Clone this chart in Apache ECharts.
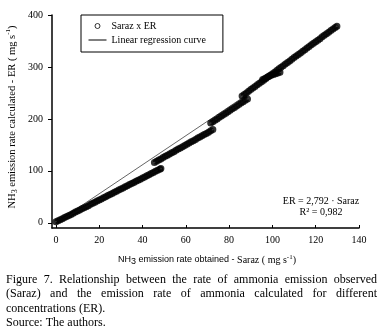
<!DOCTYPE html>
<html>
<head>
<meta charset="utf-8">
<script src="https://cdn.jsdelivr.net/npm/echarts@6/dist/echarts.min.js"></script>
<style>
html,body{margin:0;padding:0;background:#fff;}
#chart{width:383px;height:334px;}
</style>
</head>
<body>
<div id="chart"></div>
<script>
// ---- data ----
var xTicks = [0, 20, 40, 60, 80, 100, 120, 140];
var yTicks = [0, 100, 200, 300, 400];

// Saraz (observed) vs ER (calculated) – dense runs of points
var seg1X = [0,1,2,3,4,5,6,7,8,9,10,11,12,13,14,15,16,17,18,19,20,21,22,23,24,25,26,27,28,29,30,31,32,33,34,35,36,37,38,39,40,41,42,43,44,45,46,47,48,48.5];
var seg1Y = [2,4,6,8,10,12,14,16,18.5,20.6,22.7,24.8,27,29,31,33,35.5,37.5,39.7,41.8,44,46,48,50.3,52.4,54.5,56.6,58.7,60.9,63,65,67,69.3,71.5,73.6,75.7,77.8,80,82,84,86.3,88.4,90.5,92.7,94.8,97,99,101,103,104.3];
var seg2X = [45.5,46.5,47.5,48.5,49.5,50.5,51.5,52.5,53.5,54.5,55.5,56.5,57.5,58.5,59.5,60.5,61.5,62.5,63.5,64.5,65.5,66.5,67.5,68.5,69.5,70.5,71.5,72.5];
var seg2Y = [116,118.5,121,123,125.5,128,130,132.5,135,137,139.5,142,144,146.5,149,151,153.5,156,158,160.5,163,165,167.5,170,172,174.5,177,179.5];
var seg3X = [71.5,72.5,73.5,74.5,75.5,76.5,77.5,78.5,79.5,80.5,81.5,82.5,83.5,84.5,85.5,86.5,87.5,88.5];
var seg3Y = [192,194.5,197.5,200,203,205.5,208.5,211,214,216.5,219.5,222,225,227.5,230.5,233,236,238.5];
var seg4X = [86,87,88,89,90,91,92,93,94,95,96,97,98,99,100,101,102,103,104,105,106,107,108,109,110,111,112,113,114,115,116,117,118,119,120,121,122,123,124,125,126,127,128,129,129.8];
var seg4Y = [244,247,250,253,256.5,259.5,262.5,265.5,268.5,271.5,274.5,278,281,284,287,290,293,296.5,299.5,302.5,305.5,308.5,311.5,315,318,321,324,327,330,333,336.5,339.5,342.5,345.5,348.5,351.5,354.5,358,361,364,367,370,373,376,378.5];
var seg5X = [95.5,96.5,97.5,98.5,99.5,100.5,101.5,102.5,103.5];
var seg5Y = [276,278,280,282,284,285.5,287,288.5,290];

// Linear regression ER = 2,792 · Saraz (visible part)
var regX = [0, 87];
var regY = [0, 243];

var seriesName = 'Saraz x ER';
var regName = 'Linear regression curve';
var eqLine1 = 'ER = 2,792 \u00b7 Saraz';
var eqLine2 = 'R\u00b2 = 0,982';
var captionLines = [
  'Figure 7. Relationship between the rate of ammonia emission observed',
  '(Saraz) and the emission rate of ammonia calculated for different',
  'concentrations (ER).',
  'Source: The authors.'
];
var captionJustify = [true, true, false, false];

// ---- build ----
function pairs(xs, ys) { return xs.map(function (x, i) { return [x, ys[i]]; }); }
var scatterData = [].concat(pairs(seg1X, seg1Y), pairs(seg2X, seg2Y), pairs(seg3X, seg3Y), pairs(seg4X, seg4Y), pairs(seg5X, seg5Y));
var regData = pairs(regX, regY);

var SERIF = '"Liberation Serif", "DejaVu Serif", serif';
var SANS = '"Liberation Sans", "DejaVu Sans", sans-serif';

var mctx = document.createElement('canvas').getContext('2d');
var capFont = '12px "Liberation Serif"';
mctx.font = capFont;
function tw(t) { return mctx.measureText(t).width; }

var graphics = [];
// caption
var capLeft = 6, capRight = 377;
captionLines.forEach(function (line, li) {
  var y = 279.5 + li * 14.6;
  if (captionJustify[li]) {
    var words = line.split(' ');
    var total = words.reduce(function (s, w) { return s + tw(w); }, 0);
    var gap = (capRight - capLeft - total) / (words.length - 1);
    var x = capLeft;
    words.forEach(function (w) {
      graphics.push({ type: 'text', x: x, y: y, style: { text: w, font: capFont, fill: '#000', textVerticalAlign: 'middle' } });
      x += tw(w) + gap;
    });
  } else {
    graphics.push({ type: 'text', x: capLeft, y: y, style: { text: line, font: capFont, fill: '#000', textVerticalAlign: 'middle' } });
  }
});
// axis titles
graphics.push({
  type: 'text', x: 12, y: 117, rotation: Math.PI / 2,
  style: {
    text: '{a|NH}{s|3}{a| emission rate calculated - ER ( mg s}{p|-1}{a|)}',
    align: 'center', verticalAlign: 'middle', fill: '#000',
    rich: {
      a: { fontFamily: SERIF, fontSize: 10.5, lineHeight: 14, fill: '#000' },
      s: { fontFamily: SERIF, fontSize: 8, lineHeight: 14, verticalAlign: 'bottom', fill: '#000' },
      p: { fontFamily: SERIF, fontSize: 7, lineHeight: 14, verticalAlign: 'top', fill: '#000' }
    }
  }
});
graphics.push({
  type: 'text', x: 207, y: 260,
  style: {
    text: '{a|NH}{s|3}{a| emission rate obtained - }{b|Saraz ( mg s}{p|-1}{b|)}',
    align: 'center', verticalAlign: 'middle', fill: '#000',
    rich: {
      a: { fontFamily: SANS, fontSize: 9, lineHeight: 13, fill: '#000' },
      s: { fontFamily: SANS, fontSize: 9, lineHeight: 13, verticalAlign: 'bottom', fill: '#000' },
      b: { fontFamily: SERIF, fontSize: 10, lineHeight: 13, fill: '#000' },
      p: { fontFamily: SERIF, fontSize: 7, lineHeight: 13, verticalAlign: 'top', fill: '#000' }
    }
  }
});
// equation
graphics.push({ type: 'text', x: 321, y: 201, style: { text: eqLine1, font: '10px ' + SERIF, fill: '#000', align: 'center', verticalAlign: 'middle' } });
graphics.push({ type: 'text', x: 321, y: 212.5, style: { text: eqLine2, font: '10px ' + SERIF, fill: '#000', align: 'center', verticalAlign: 'middle' } });

var chart = echarts.init(document.getElementById('chart'), null, { renderer: 'canvas' });
chart.setOption({
  animation: false,
  backgroundColor: '#fff',
  grid: { left: 52, top: 15, right: 24, bottom: 106, containLabel: false },
  legend: {
    orient: 'vertical', left: 81, top: 15,
    itemWidth: 18, itemHeight: 5, itemGap: 3,
    padding: [5.5, 17, 6.5, 7],
    borderColor: '#000', borderWidth: 1, borderRadius: 0,
    textStyle: { fontFamily: SERIF, fontSize: 10, color: '#000', lineHeight: 11 },
    data: [
      { name: seriesName, icon: 'circle', itemStyle: { color: '#fff', borderColor: '#000', borderWidth: 1 } },
      { name: regName, itemStyle: { color: 'rgba(0,0,0,0)', borderColor: 'rgba(0,0,0,0)', borderWidth: 0 }, lineStyle: { color: '#000', width: 1 } }
    ]
  },
  xAxis: {
    type: 'value', min: -1.8, max: 140,
    axisLine: { show: true, onZero: false, lineStyle: { color: '#000', width: 1.5 } },
    axisTick: { show: true, inside: true, length: 3, customValues: xTicks, lineStyle: { color: '#000', width: 1 } },
    axisLabel: { customValues: xTicks, margin: 7, fontFamily: SERIF, fontSize: 10, color: '#000' },
    splitLine: { show: false }
  },
  yAxis: {
    type: 'value', min: -10, max: 400,
    axisLine: { show: true, onZero: false, lineStyle: { color: '#000', width: 1.5 } },
    axisTick: { show: true, inside: false, length: 4, customValues: yTicks, lineStyle: { color: '#000', width: 1 } },
    axisLabel: { customValues: yTicks, margin: 9, fontFamily: SERIF, fontSize: 10, color: '#000' },
    splitLine: { show: false }
  },
  series: [
    {
      name: regName, type: 'line', data: regData, symbol: 'none', z: 1,
      itemStyle: { color: '#000' },
      lineStyle: { color: '#222', width: 0.7 }
    },
    {
      name: seriesName, type: 'scatter', data: scatterData, z: 2,
      symbol: 'circle', symbolSize: 4.4,
      itemStyle: { color: 'rgba(0,0,0,0)', borderColor: '#000', borderWidth: 2.6 },
      emphasis: { disabled: true }
    }
  ],
  graphic: graphics
});
</script>
</body>
</html>
